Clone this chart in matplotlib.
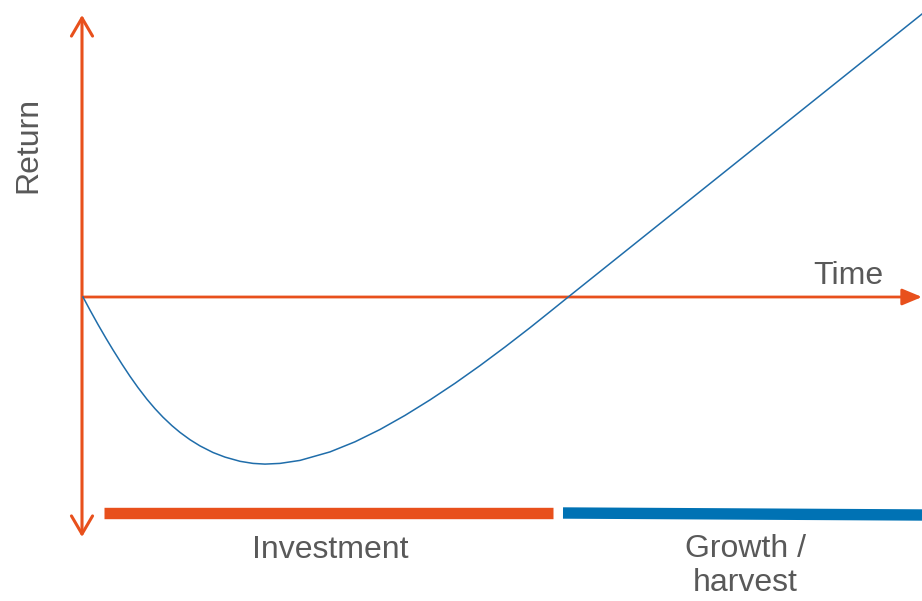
import matplotlib.pyplot as plt
from matplotlib.patches import FancyArrowPatch

plt.rcParams['font.family'] = ['Liberation Sans', 'DejaVu Sans']

# J-curve (pixel-like units, y grows downward)
curve_x = [83, 90, 98, 106, 113, 122, 130, 138, 147, 155, 163, 172, 180, 190,
           200, 213, 225, 240, 253, 265, 280, 300, 330, 355, 380, 405, 430, 455,
           480, 505, 530, 550, 567, 600, 660, 727, 810, 922]
curve_y = [297, 310.1, 324.5, 338.3, 349.9, 364.2, 376.3, 387.6, 399.3, 408.7,
           417.2, 425.7, 432.4, 439.7, 445.9, 452.5, 457.1, 461.3, 463.4, 464.1,
           463.4, 460.4, 451.9, 441.8, 429.5, 415.4, 399.9, 383.3, 365.6, 347.0,
           327.7, 311.7, 298, 271.6, 223.6, 170, 103.6, 14]

# phase bars
phase_labels = ['Investment', 'Growth /\nharvest']
phase_start = [104, 563]
phase_end = [553, 922]
phase_y0 = [512.5, 513]
phase_y1 = [512.5, 515]
phase_label_x = [330, 745]
phase_label_y = [550, 566]

ORANGE = '#E8501C'
BLUE_LINE = '#1F6DAA'
BLUE_BAR = '#0072B4'
GREY = '#595959'

fig = plt.figure(figsize=(9.22, 6.01), dpi=100)
ax = fig.add_axes([0, 0, 1, 1])
ax.set_xlim(0, 922)
ax.set_ylim(601, 0)
ax.axis('off')

# axes arrows
v_arrow = FancyArrowPatch((82, 537), (82, 15),
                          arrowstyle='<->,head_length=0.65,head_width=0.38',
                          mutation_scale=20, color=ORANGE, lw=2.2,
                          shrinkA=0, shrinkB=0)
ax.add_patch(v_arrow)
h_arrow = FancyArrowPatch((83, 297), (922, 297),
                          arrowstyle='-|>,head_length=0.6,head_width=0.25',
                          mutation_scale=20, color=ORANGE, lw=2.0,
                          shrinkA=0, shrinkB=0)
ax.add_patch(h_arrow)

ax.plot(curve_x, curve_y, color=BLUE_LINE, lw=1.1, zorder=3)

bar_colors = [ORANGE, BLUE_BAR]
for i in range(len(phase_labels)):
    ax.plot([phase_start[i], phase_end[i]], [phase_y0[i], phase_y1[i]],
            color=bar_colors[i], lw=8.2, solid_capstyle='butt')
    ax.text(phase_label_x[i], phase_label_y[i], phase_labels[i], fontsize=23,
            color=GREY, ha='center', va='center', linespacing=1.15)

ax.text(28, 145, 'Return', rotation=90, fontsize=23, color=GREY,
        ha='center', va='center')
ax.text(848, 276, 'Time', fontsize=23, color=GREY, ha='center', va='center')

fig.savefig('out.png', dpi=100)
